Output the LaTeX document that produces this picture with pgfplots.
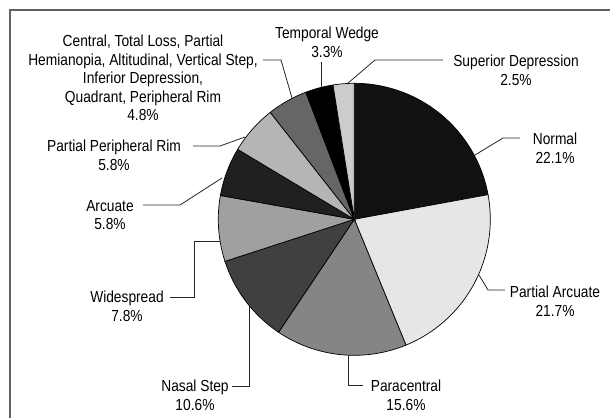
\documentclass[border=0pt]{standalone}
\usepackage{pgfplots}
\pgfplotsset{compat=1.18}
\usepackage{fontspec}
\setmainfont{Liberation Sans}[FakeStretch=0.86]
\definecolor{cNormal}{HTML}{111111}
\definecolor{cPArc}{HTML}{E6E6E6}
\definecolor{cPara}{HTML}{858585}
\definecolor{cNasal}{HTML}{404040}
\definecolor{cWide}{HTML}{A0A0A0}
\definecolor{cArc}{HTML}{202020}
\definecolor{cPPR}{HTML}{B5B5B5}
\definecolor{cCentral}{HTML}{666666}
\definecolor{cTemp}{HTML}{000000}
\definecolor{cSup}{HTML}{CCCCCC}
\def\cx{354.3}
\def\cy{219.3}
\def\R{136}
\tikzset{lbl/.style={font=\fontsize{16}{18.5}\selectfont, inner sep=0pt, align=center, anchor=north}}
% slice: start percent, end percent, colour
\newcommand\slice[3]{%
  \addplot[draw=black, line width=0.7pt, fill=#3, domain=#1*3.6:#2*3.6, samples=80, variable=\t]
    ({\cx+\R*sin(\t)},{\cy-\R*cos(\t)}) -- (axis cs:\cx,\cy) -- cycle;
}
\begin{document}
\begin{tikzpicture}
\begin{axis}[
  hide axis, scale only axis, width=610pt, height=418pt,
  xmin=0, xmax=610, ymin=0, ymax=418, y dir=reverse,
  clip=false
]
\coordinate (BL) at (axis cs:0,418);
\coordinate (TR) at (axis cs:610,0);
% frame
\draw[color=black!62, line width=1.5pt] (axis cs:10,418) -- (axis cs:10,10) -- (axis cs:610,10);
% data: Normal 22.1, Partial Arcuate 21.7, Paracentral 15.6, Nasal Step 10.6,
% Widespread 7.8, Arcuate 5.8, Partial Peripheral Rim 5.8, Central... 4.8,
% Temporal Wedge 3.3, Superior Depression 2.5
\slice{0}{22.1}{cNormal}
\slice{22.1}{43.8}{cPArc}
\slice{43.8}{59.4}{cPara}
\slice{59.4}{70.0}{cNasal}
\slice{70.0}{77.8}{cWide}
\slice{77.8}{83.6}{cArc}
\slice{83.6}{89.4}{cPPR}
\slice{89.4}{94.2}{cCentral}
\slice{94.2}{97.5}{cTemp}
\slice{97.5}{100}{cSup}
% leader lines
\begin{scope}[line width=0.8pt, color=black!85]
\draw (axis cs:347,84) -- (axis cs:375,60) -- (axis cs:443,60);
\draw (axis cs:321,62) -- (axis cs:321,87);
\draw (axis cs:263,60) -- (axis cs:281,60) -- (axis cs:292,98);
\draw (axis cs:193,146) -- (axis cs:220,146) -- (axis cs:245,137);
\draw (axis cs:143,205) -- (axis cs:180,205) -- (axis cs:222,178);
\draw (axis cs:170,297) -- (axis cs:194,297) -- (axis cs:194,241) -- (axis cs:220,241);
\draw (axis cs:232,386) -- (axis cs:249,386) -- (axis cs:249,305);
\draw (axis cs:348,355) -- (axis cs:348,385) -- (axis cs:363,385);
\draw (axis cs:479,275) -- (axis cs:488,290) -- (axis cs:505,290);
\draw (axis cs:475,155) -- (axis cs:503,138) -- (axis cs:520,138);
\end{scope}
% labels
\node[lbl] at (axis cs:516,55) {Superior Depression\\2.5\%};
\node[lbl] at (axis cs:327,27) {Temporal Wedge\\3.3\%};
\node[lbl] at (axis cs:143,35) {Central, Total Loss, Partial\\Hemianopia, Altitudinal, Vertical Step,\\Inferior Depression,\\Quadrant, Peripheral Rim\\4.8\%};
\node[lbl] at (axis cs:114,140) {Partial Peripheral Rim\\5.8\%};
\node[lbl] at (axis cs:110,200) {Arcuate\\5.8\%};
\node[lbl] at (axis cs:127,291) {Widespread\\7.8\%};
\node[lbl] at (axis cs:195,380) {Nasal Step\\10.6\%};
\node[lbl] at (axis cs:406,380) {Paracentral\\15.6\%};
\node[lbl] at (axis cs:555,286) {Partial Arcuate\\21.7\%};
\node[lbl] at (axis cs:555,133) {Normal\\22.1\%};
\end{axis}
\pgfresetboundingbox
\useasboundingbox (BL) rectangle (TR);
\end{tikzpicture}
\end{document}
